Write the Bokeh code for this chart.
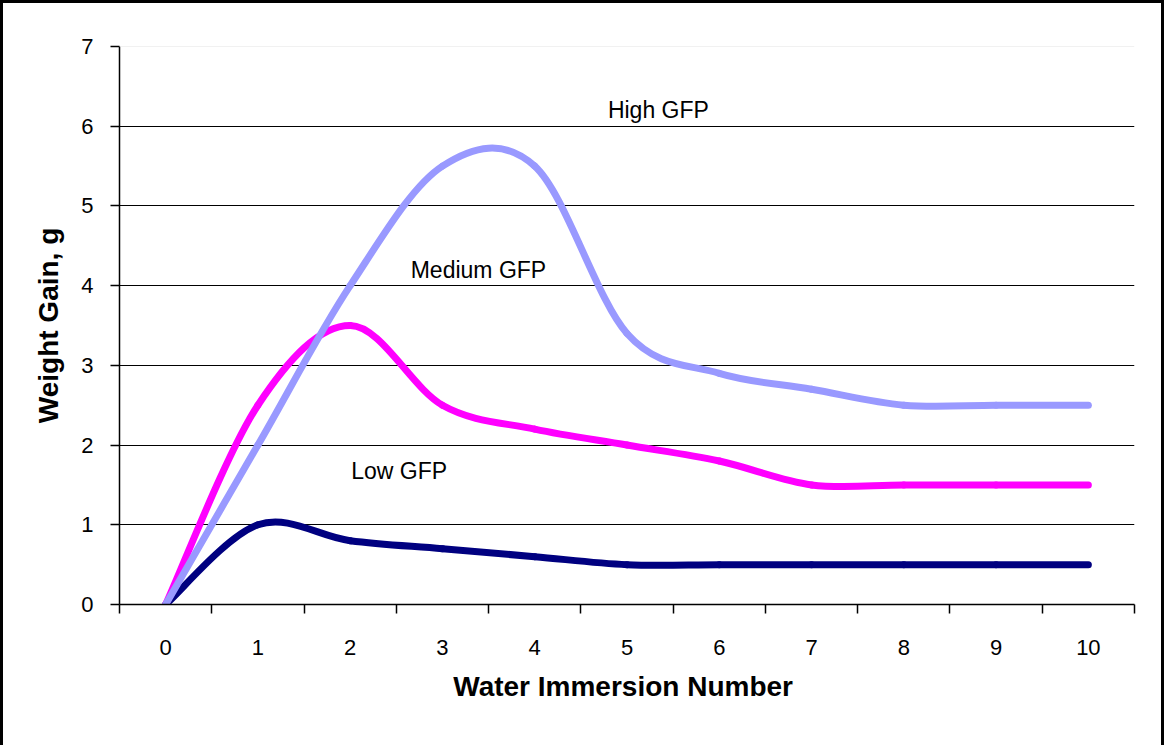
from bokeh.plotting import figure
from bokeh.models import FixedTicker, Range1d, Label, Span, ColumnDataSource
from bokeh.embed import file_html
from bokeh.resources import INLINE

# ---------------- data ----------------
immersion = [0, 1, 2, 3, 4, 5, 6, 7, 8, 9, 10]
high_gfp = [0.0, 2.0, 4.0, 5.5, 5.5, 3.4, 2.9, 2.7, 2.5, 2.5, 2.5]
medium_gfp = [0.0, 2.5, 3.5, 2.5, 2.2, 2.0, 1.8, 1.5, 1.5, 1.5, 1.5]
low_gfp = [0.0, 1.0, 0.8, 0.7, 0.6, 0.5, 0.5, 0.5, 0.5, 0.5, 0.5]
y_ticks = [0, 1, 2, 3, 4, 5, 6, 7]
series_names = ["Low GFP", "Medium GFP", "High GFP"]
series_colors = ["#000080", "#FF00FF", "#9999FF"]

FONT = "Liberation Sans"


def smooth_segments(xs, ys):
    """Bezier segments through the data points (Excel-style smoothed line)."""
    n = len(xs)
    d = dict(x0=[], y0=[], x1=[], y1=[], cx0=[], cy0=[], cx1=[], cy1=[])
    for i in range(n - 1):
        a = max(i - 1, 0)
        b = min(i + 2, n - 1)
        d["x0"].append(xs[i]); d["y0"].append(ys[i])
        d["x1"].append(xs[i + 1]); d["y1"].append(ys[i + 1])
        d["cx0"].append(xs[i] + (xs[i + 1] - xs[a]) / 6.0)
        d["cy0"].append(ys[i] + (ys[i + 1] - ys[a]) / 6.0)
        d["cx1"].append(xs[i + 1] - (xs[b] - xs[i]) / 6.0)
        d["cy1"].append(ys[i + 1] - (ys[b] - ys[i]) / 6.0)
    return ColumnDataSource(d)


p = figure(
    width=1164, height=745,
    x_range=Range1d(-0.5, 10.5), y_range=Range1d(0, 7),
    output_backend="svg", toolbar_location=None,
    min_border_left=116, min_border_right=33,
    min_border_top=43, min_border_bottom=144,
)
p.styles = {
    "border-left": "3px solid black",
    "border-top": "3px solid black",
    "border-right": "3px solid black",
}
p.background_fill_color = "white"
p.border_fill_color = "white"
p.outline_line_color = None

# grid
p.xgrid.visible = False
p.ygrid.ticker = FixedTicker(ticks=y_ticks[1:-1])
p.ygrid.grid_line_color = "black"
p.ygrid.grid_line_width = 1.2
p.add_layout(Span(location=y_ticks[-1], dimension="width",
                  line_color="#e4e4e4", line_width=1))

# x axis (category style: ticks between categories)
xa = p.xaxis[0]
xa.ticker = FixedTicker(ticks=immersion,
                        minor_ticks=[c - 0.5 for c in immersion] + [immersion[-1] + 0.5])
xa.major_tick_out = 0
xa.major_tick_in = 0
xa.minor_tick_out = 9
xa.minor_tick_in = 0
xa.minor_tick_line_color = "black"
xa.minor_tick_line_width = 1.5
xa.axis_line_color = "black"
xa.axis_line_width = 1.5
xa.major_label_standoff = 26
xa.major_label_text_font = FONT
xa.major_label_text_font_size = "22px"
xa.major_label_text_color = "black"
xa.axis_label = "Water Immersion  Number"
xa.axis_label_text_font = FONT
xa.axis_label_text_font_style = "bold"
xa.axis_label_text_font_size = "28px"
xa.axis_label_text_color = "black"
xa.axis_label_standoff = 13

# y axis
ya = p.yaxis[0]
ya.ticker = FixedTicker(ticks=y_ticks)
ya.major_tick_out = 9
ya.major_tick_in = 0
ya.minor_tick_out = 0
ya.minor_tick_in = 0
ya.major_tick_line_color = "black"
ya.major_tick_line_width = 1.5
ya.axis_line_color = "black"
ya.axis_line_width = 1.5
ya.major_label_standoff = 17
ya.major_label_text_font = FONT
ya.major_label_text_font_size = "22px"
ya.major_label_text_color = "black"
ya.axis_label = "Weight Gain, g"
ya.axis_label_text_font = FONT
ya.axis_label_text_font_style = "bold"
ya.axis_label_text_font_size = "28px"
ya.axis_label_text_color = "black"
ya.axis_label_standoff = 14

# series (drawn Low, Medium, High so High is on top)
for ys, color in zip([low_gfp, medium_gfp, high_gfp], series_colors):
    src = smooth_segments(immersion, ys)
    p.bezier(x0="x0", y0="y0", x1="x1", y1="y1", cx0="cx0", cy0="cy0",
             cx1="cx1", cy1="cy1", source=src, line_color=color,
             line_width=7, line_cap="round")

# series labels
label_pos = [(2.53, 1.68), (3.39, 4.19), (5.34, 6.2)]
for name, (lx, ly) in zip(series_names, label_pos):
    p.add_layout(Label(x=lx, y=ly, text=name, text_align="center",
                       text_baseline="middle", text_font=FONT,
                       text_font_size="23px", text_color="black"))

open("out.html", "w").write(file_html(p, INLINE))
